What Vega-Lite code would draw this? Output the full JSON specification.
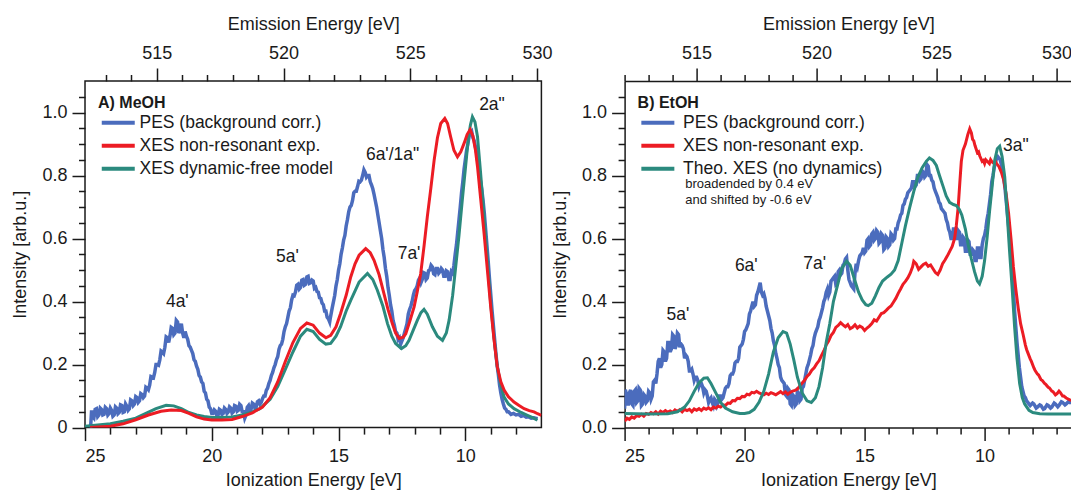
{
"$schema": "https://vega.github.io/schema/vega-lite/v6.json",
"padding": {"left": 11, "top": 15, "right": 0, "bottom": 0},
"autosize": {"type": "pad"},
"bounds": "flush",
"spacing": 82.6,
"config": {
  "font": "Liberation Sans",
  "view": {"stroke": "#1a1a1a", "strokeWidth": 1.5},
  "axis": {"grid": false, "domain": false, "domainColor": "#1a1a1a", "domainWidth": 1.5, "tickColor": "#1a1a1a", "tickWidth": 1.5, "labelFont": "Liberation Sans", "labelFontSize": 18, "labelColor": "#1a1a1a", "titleFont": "Liberation Sans", "titleFontSize": 18, "titleFontWeight": "normal", "titleColor": "#1a1a1a"},
  "legend": {"labelFont": "Liberation Sans", "labelFontSize": 17.5, "labelColor": "#1a1a1a", "labelLimit": 400, "titleFont": "Liberation Sans", "titleFontSize": 16, "titleFontWeight": "bold", "titleColor": "#1a1a1a", "titleLimit": 400}
},
"datasets": {
  "meoh_pes": [
    {"ie":24.78,"v":0.0},{"ie":24.74,"v":0.055},{"ie":24.7,"v":0.035},{"ie":24.65,"v":0.03},{"ie":24.6,"v":0.058},{"ie":24.55,"v":0.06},{"ie":24.5,"v":0.035},{"ie":24.45,"v":0.04},{"ie":24.4,"v":0.062},{"ie":24.35,"v":0.058},{"ie":24.3,"v":0.04},{"ie":24.25,"v":0.042},{"ie":24.2,"v":0.064},{"ie":24.15,"v":0.06},{"ie":24.1,"v":0.04},{"ie":24.05,"v":0.045},{"ie":24.0,"v":0.062},{"ie":23.95,"v":0.055},{"ie":23.9,"v":0.036},{"ie":23.85,"v":0.04},{"ie":23.8,"v":0.066},{"ie":23.75,"v":0.062},{"ie":23.7,"v":0.044},{"ie":23.65,"v":0.048},{"ie":23.6,"v":0.072},{"ie":23.55,"v":0.07},{"ie":23.5,"v":0.048},{"ie":23.45,"v":0.05},{"ie":23.4,"v":0.075},{"ie":23.35,"v":0.068},{"ie":23.3,"v":0.055},{"ie":23.25,"v":0.06},{"ie":23.2,"v":0.088},{"ie":23.15,"v":0.085},{"ie":23.1,"v":0.07},{"ie":23.05,"v":0.075},{"ie":23.0,"v":0.098},{"ie":22.95,"v":0.095},{"ie":22.9,"v":0.08},{"ie":22.85,"v":0.085},{"ie":22.8,"v":0.108},{"ie":22.75,"v":0.105},{"ie":22.7,"v":0.095},{"ie":22.65,"v":0.1},{"ie":22.6,"v":0.128},{"ie":22.55,"v":0.125},{"ie":22.5,"v":0.12},{"ie":22.45,"v":0.135},{"ie":22.4,"v":0.162},{"ie":22.35,"v":0.16},{"ie":22.3,"v":0.158},{"ie":22.25,"v":0.175},{"ie":22.2,"v":0.2},{"ie":22.15,"v":0.2},{"ie":22.1,"v":0.198},{"ie":22.05,"v":0.215},{"ie":22.0,"v":0.243},{"ie":21.95,"v":0.24},{"ie":21.9,"v":0.235},{"ie":21.85,"v":0.255},{"ie":21.8,"v":0.288},{"ie":21.75,"v":0.285},{"ie":21.7,"v":0.27},{"ie":21.65,"v":0.29},{"ie":21.6,"v":0.318},{"ie":21.55,"v":0.315},{"ie":21.5,"v":0.295},{"ie":21.45,"v":0.3},{"ie":21.4,"v":0.34},{"ie":21.35,"v":0.335},{"ie":21.3,"v":0.3},{"ie":21.25,"v":0.31},{"ie":21.2,"v":0.33},{"ie":21.15,"v":0.3},{"ie":21.1,"v":0.285},{"ie":21.05,"v":0.305},{"ie":21.0,"v":0.29},{"ie":20.95,"v":0.28},{"ie":20.9,"v":0.26},{"ie":20.85,"v":0.255},{"ie":20.8,"v":0.245},{"ie":20.75,"v":0.235},{"ie":20.7,"v":0.215},{"ie":20.65,"v":0.21},{"ie":20.6,"v":0.195},{"ie":20.55,"v":0.185},{"ie":20.5,"v":0.165},{"ie":20.45,"v":0.16},{"ie":20.4,"v":0.145},{"ie":20.35,"v":0.14},{"ie":20.3,"v":0.115},{"ie":20.25,"v":0.11},{"ie":20.2,"v":0.09},{"ie":20.15,"v":0.085},{"ie":20.1,"v":0.065},{"ie":20.05,"v":0.06},{"ie":20.0,"v":0.045},{"ie":19.95,"v":0.045},{"ie":19.9,"v":0.056},{"ie":19.85,"v":0.052},{"ie":19.8,"v":0.038},{"ie":19.75,"v":0.04},{"ie":19.7,"v":0.058},{"ie":19.65,"v":0.055},{"ie":19.6,"v":0.042},{"ie":19.55,"v":0.045},{"ie":19.5,"v":0.062},{"ie":19.45,"v":0.058},{"ie":19.4,"v":0.045},{"ie":19.35,"v":0.05},{"ie":19.3,"v":0.066},{"ie":19.25,"v":0.062},{"ie":19.2,"v":0.046},{"ie":19.15,"v":0.05},{"ie":19.1,"v":0.07},{"ie":19.05,"v":0.068},{"ie":19.0,"v":0.052},{"ie":18.95,"v":0.055},{"ie":18.9,"v":0.074},{"ie":18.85,"v":0.07},{"ie":18.8,"v":0.05},{"ie":18.75,"v":0.05},{"ie":18.7,"v":0.03},{"ie":18.65,"v":0.04},{"ie":18.6,"v":0.065},{"ie":18.55,"v":0.07},{"ie":18.5,"v":0.055},{"ie":18.45,"v":0.058},{"ie":18.4,"v":0.078},{"ie":18.35,"v":0.075},{"ie":18.3,"v":0.062},{"ie":18.25,"v":0.065},{"ie":18.2,"v":0.082},{"ie":18.15,"v":0.085},{"ie":18.1,"v":0.075},{"ie":18.05,"v":0.08},{"ie":18.0,"v":0.092},{"ie":17.95,"v":0.1},{"ie":17.9,"v":0.1},{"ie":17.85,"v":0.118},{"ie":17.8,"v":0.125},{"ie":17.75,"v":0.14},{"ie":17.7,"v":0.15},{"ie":17.65,"v":0.165},{"ie":17.6,"v":0.175},{"ie":17.55,"v":0.19},{"ie":17.5,"v":0.2},{"ie":17.45,"v":0.215},{"ie":17.4,"v":0.225},{"ie":17.35,"v":0.248},{"ie":17.3,"v":0.26},{"ie":17.25,"v":0.265},{"ie":17.2,"v":0.28},{"ie":17.15,"v":0.305},{"ie":17.1,"v":0.32},{"ie":17.05,"v":0.33},{"ie":17.0,"v":0.35},{"ie":16.95,"v":0.37},{"ie":16.9,"v":0.38},{"ie":16.85,"v":0.405},{"ie":16.8,"v":0.42},{"ie":16.75,"v":0.418},{"ie":16.7,"v":0.43},{"ie":16.65,"v":0.452},{"ie":16.6,"v":0.455},{"ie":16.55,"v":0.44},{"ie":16.5,"v":0.445},{"ie":16.45,"v":0.468},{"ie":16.4,"v":0.47},{"ie":16.35,"v":0.452},{"ie":16.3,"v":0.455},{"ie":16.25,"v":0.478},{"ie":16.2,"v":0.48},{"ie":16.15,"v":0.458},{"ie":16.1,"v":0.46},{"ie":16.05,"v":0.468},{"ie":16.0,"v":0.465},{"ie":15.95,"v":0.442},{"ie":15.9,"v":0.445},{"ie":15.85,"v":0.432},{"ie":15.8,"v":0.43},{"ie":15.75,"v":0.412},{"ie":15.7,"v":0.41},{"ie":15.65,"v":0.395},{"ie":15.6,"v":0.39},{"ie":15.55,"v":0.37},{"ie":15.5,"v":0.37},{"ie":15.45,"v":0.35},{"ie":15.4,"v":0.345},{"ie":15.35,"v":0.335},{"ie":15.32,"v":0.35},{"ie":15.25,"v":0.38},{"ie":15.2,"v":0.4},{"ie":15.15,"v":0.42},{"ie":15.1,"v":0.45},{"ie":15.05,"v":0.47},{"ie":15.0,"v":0.5},{"ie":14.95,"v":0.52},{"ie":14.9,"v":0.55},{"ie":14.85,"v":0.57},{"ie":14.8,"v":0.595},{"ie":14.75,"v":0.61},{"ie":14.7,"v":0.64},{"ie":14.65,"v":0.66},{"ie":14.6,"v":0.685},{"ie":14.55,"v":0.7},{"ie":14.5,"v":0.705},{"ie":14.45,"v":0.72},{"ie":14.4,"v":0.745},{"ie":14.35,"v":0.75},{"ie":14.3,"v":0.75},{"ie":14.25,"v":0.765},{"ie":14.2,"v":0.782},{"ie":14.15,"v":0.78},{"ie":14.1,"v":0.785},{"ie":14.05,"v":0.8},{"ie":14.0,"v":0.818},{"ie":13.95,"v":0.81},{"ie":13.9,"v":0.795},{"ie":13.85,"v":0.8},{"ie":13.8,"v":0.8},{"ie":13.75,"v":0.78},{"ie":13.7,"v":0.77},{"ie":13.65,"v":0.758},{"ie":13.6,"v":0.74},{"ie":13.55,"v":0.72},{"ie":13.5,"v":0.7},{"ie":13.45,"v":0.675},{"ie":13.4,"v":0.65},{"ie":13.35,"v":0.625},{"ie":13.3,"v":0.6},{"ie":13.25,"v":0.565},{"ie":13.2,"v":0.54},{"ie":13.15,"v":0.505},{"ie":13.1,"v":0.48},{"ie":13.05,"v":0.445},{"ie":13.0,"v":0.42},{"ie":12.95,"v":0.39},{"ie":12.9,"v":0.37},{"ie":12.85,"v":0.34},{"ie":12.8,"v":0.325},{"ie":12.75,"v":0.305},{"ie":12.7,"v":0.3},{"ie":12.65,"v":0.28},{"ie":12.6,"v":0.285},{"ie":12.55,"v":0.265},{"ie":12.5,"v":0.275},{"ie":12.45,"v":0.285},{"ie":12.4,"v":0.3},{"ie":12.35,"v":0.315},{"ie":12.3,"v":0.33},{"ie":12.25,"v":0.36},{"ie":12.2,"v":0.375},{"ie":12.15,"v":0.385},{"ie":12.1,"v":0.4},{"ie":12.05,"v":0.42},{"ie":12.0,"v":0.435},{"ie":11.95,"v":0.44},{"ie":11.9,"v":0.45},{"ie":11.85,"v":0.468},{"ie":11.8,"v":0.475},{"ie":11.75,"v":0.46},{"ie":11.7,"v":0.47},{"ie":11.65,"v":0.492},{"ie":11.6,"v":0.49},{"ie":11.55,"v":0.47},{"ie":11.5,"v":0.475},{"ie":11.45,"v":0.498},{"ie":11.4,"v":0.5},{"ie":11.35,"v":0.515},{"ie":11.3,"v":0.51},{"ie":11.25,"v":0.488},{"ie":11.2,"v":0.485},{"ie":11.15,"v":0.505},{"ie":11.1,"v":0.505},{"ie":11.05,"v":0.49},{"ie":11.0,"v":0.495},{"ie":10.95,"v":0.505},{"ie":10.9,"v":0.5},{"ie":10.85,"v":0.48},{"ie":10.8,"v":0.48},{"ie":10.75,"v":0.498},{"ie":10.7,"v":0.495},{"ie":10.65,"v":0.47},{"ie":10.6,"v":0.47},{"ie":10.55,"v":0.495},{"ie":10.5,"v":0.49},{"ie":10.45,"v":0.515},{"ie":10.4,"v":0.55},{"ie":10.35,"v":0.58},{"ie":10.3,"v":0.62},{"ie":10.25,"v":0.66},{"ie":10.2,"v":0.7},{"ie":10.15,"v":0.745},{"ie":10.1,"v":0.78},{"ie":10.05,"v":0.82},{"ie":10.0,"v":0.85},{"ie":9.95,"v":0.88},{"ie":9.9,"v":0.9},{"ie":9.85,"v":0.925},{"ie":9.8,"v":0.935},{"ie":9.75,"v":0.94},{"ie":9.7,"v":0.92},{"ie":9.65,"v":0.91},{"ie":9.6,"v":0.89},{"ie":9.55,"v":0.87},{"ie":9.5,"v":0.84},{"ie":9.45,"v":0.815},{"ie":9.4,"v":0.78},{"ie":9.35,"v":0.755},{"ie":9.3,"v":0.72},{"ie":9.25,"v":0.68},{"ie":9.2,"v":0.63},{"ie":9.15,"v":0.58},{"ie":9.1,"v":0.53},{"ie":9.05,"v":0.475},{"ie":9.0,"v":0.425},{"ie":8.95,"v":0.375},{"ie":8.9,"v":0.33},{"ie":8.85,"v":0.285},{"ie":8.8,"v":0.24},{"ie":8.75,"v":0.2},{"ie":8.7,"v":0.17},{"ie":8.65,"v":0.135},{"ie":8.6,"v":0.11},{"ie":8.55,"v":0.09},{"ie":8.5,"v":0.075},{"ie":8.45,"v":0.062},{"ie":8.4,"v":0.058},{"ie":8.35,"v":0.05},{"ie":8.3,"v":0.05},{"ie":8.2,"v":0.042},{"ie":8.1,"v":0.045},{"ie":8.0,"v":0.04},{"ie":7.9,"v":0.042},{"ie":7.8,"v":0.036},{"ie":7.7,"v":0.038},{"ie":7.6,"v":0.033},{"ie":7.5,"v":0.034},{"ie":7.4,"v":0.03},{"ie":7.3,"v":0.031},{"ie":7.15,"v":0.028}
  ],
  "meoh_xes": [
    {"ie":24.8,"v":0.0},{"ie":24.0,"v":0.004},{"ie":23.5,"v":0.012},{"ie":23.0,"v":0.025},{"ie":22.5,"v":0.04},{"ie":22.0,"v":0.052},{"ie":21.6,"v":0.056},{"ie":21.2,"v":0.054},{"ie":20.9,"v":0.045},{"ie":20.6,"v":0.034},{"ie":20.3,"v":0.027},{"ie":20.0,"v":0.024},{"ie":19.6,"v":0.024},{"ie":19.2,"v":0.026},{"ie":18.8,"v":0.035},{"ie":18.4,"v":0.047},{"ie":18.0,"v":0.065},{"ie":17.7,"v":0.095},{"ie":17.4,"v":0.145},{"ie":17.1,"v":0.21},{"ie":16.8,"v":0.27},{"ie":16.5,"v":0.315},{"ie":16.25,"v":0.332},{"ie":16.0,"v":0.325},{"ie":15.75,"v":0.3},{"ie":15.5,"v":0.285},{"ie":15.31,"v":0.293},{"ie":15.1,"v":0.32},{"ie":14.92,"v":0.362},{"ie":14.7,"v":0.42},{"ie":14.52,"v":0.478},{"ie":14.35,"v":0.52},{"ie":14.19,"v":0.547},{"ie":13.93,"v":0.568},{"ie":13.75,"v":0.555},{"ie":13.6,"v":0.531},{"ie":13.4,"v":0.485},{"ie":13.21,"v":0.425},{"ie":13.05,"v":0.375},{"ie":12.88,"v":0.33},{"ie":12.75,"v":0.3},{"ie":12.61,"v":0.283},{"ie":12.45,"v":0.287},{"ie":12.35,"v":0.298},{"ie":12.2,"v":0.335},{"ie":12.02,"v":0.383},{"ie":11.9,"v":0.43},{"ie":11.76,"v":0.489},{"ie":11.63,"v":0.575},{"ie":11.5,"v":0.669},{"ie":11.36,"v":0.76},{"ie":11.23,"v":0.849},{"ie":11.1,"v":0.92},{"ie":10.97,"v":0.965},{"ie":10.81,"v":0.981},{"ie":10.7,"v":0.965},{"ie":10.58,"v":0.923},{"ie":10.45,"v":0.88},{"ie":10.31,"v":0.859},{"ie":10.18,"v":0.875},{"ie":10.05,"v":0.902},{"ie":9.93,"v":0.93},{"ie":9.81,"v":0.946},{"ie":9.7,"v":0.925},{"ie":9.6,"v":0.88},{"ie":9.52,"v":0.828},{"ie":9.4,"v":0.73},{"ie":9.26,"v":0.616},{"ie":9.13,"v":0.5},{"ie":9.0,"v":0.383},{"ie":8.87,"v":0.28},{"ie":8.74,"v":0.193},{"ie":8.6,"v":0.145},{"ie":8.47,"v":0.119},{"ie":8.3,"v":0.098},{"ie":8.08,"v":0.081},{"ie":7.88,"v":0.07},{"ie":7.68,"v":0.06},{"ie":7.48,"v":0.054},{"ie":7.29,"v":0.05},{"ie":7.15,"v":0.044},{"ie":7.0,"v":0.039}
  ],
  "meoh_model": [
    {"ie":25.0,"v":0.004},{"ie":24.5,"v":0.008},{"ie":24.0,"v":0.012},{"ie":23.5,"v":0.02},{"ie":23.0,"v":0.03},{"ie":22.6,"v":0.045},{"ie":22.2,"v":0.06},{"ie":21.8,"v":0.071},{"ie":21.5,"v":0.069},{"ie":21.2,"v":0.06},{"ie":20.9,"v":0.048},{"ie":20.6,"v":0.04},{"ie":20.3,"v":0.035},{"ie":20.0,"v":0.032},{"ie":19.6,"v":0.032},{"ie":19.2,"v":0.034},{"ie":18.8,"v":0.04},{"ie":18.4,"v":0.05},{"ie":18.1,"v":0.06},{"ie":17.7,"v":0.09},{"ie":17.4,"v":0.13},{"ie":17.1,"v":0.185},{"ie":16.8,"v":0.24},{"ie":16.5,"v":0.29},{"ie":16.25,"v":0.312},{"ie":16.0,"v":0.305},{"ie":15.75,"v":0.28},{"ie":15.5,"v":0.265},{"ie":15.31,"v":0.267},{"ie":15.1,"v":0.29},{"ie":14.92,"v":0.32},{"ie":14.7,"v":0.37},{"ie":14.52,"v":0.404},{"ie":14.19,"v":0.462},{"ie":13.86,"v":0.489},{"ie":13.65,"v":0.47},{"ie":13.47,"v":0.436},{"ie":13.25,"v":0.385},{"ie":13.07,"v":0.33},{"ie":12.9,"v":0.29},{"ie":12.75,"v":0.267},{"ie":12.52,"v":0.251},{"ie":12.35,"v":0.26},{"ie":12.22,"v":0.277},{"ie":12.05,"v":0.31},{"ie":11.89,"v":0.341},{"ie":11.75,"v":0.365},{"ie":11.63,"v":0.375},{"ie":11.5,"v":0.36},{"ie":11.3,"v":0.32},{"ie":11.1,"v":0.29},{"ie":10.9,"v":0.277},{"ie":10.75,"v":0.3},{"ie":10.64,"v":0.341},{"ie":10.5,"v":0.42},{"ie":10.38,"v":0.51},{"ie":10.25,"v":0.61},{"ie":10.12,"v":0.722},{"ie":10.0,"v":0.82},{"ie":9.89,"v":0.912},{"ie":9.8,"v":0.96},{"ie":9.72,"v":0.986},{"ie":9.62,"v":0.97},{"ie":9.52,"v":0.923},{"ie":9.4,"v":0.81},{"ie":9.26,"v":0.669},{"ie":9.13,"v":0.53},{"ie":9.0,"v":0.394},{"ie":8.87,"v":0.285},{"ie":8.74,"v":0.193},{"ie":8.6,"v":0.135},{"ie":8.47,"v":0.097},{"ie":8.3,"v":0.075},{"ie":8.08,"v":0.06},{"ie":7.8,"v":0.048},{"ie":7.55,"v":0.039},{"ie":7.3,"v":0.03},{"ie":7.16,"v":0.023}
  ],
  "meoh_labels": [
    {"ie":21.36,"v":0.4,"t":"4a'"},{"ie":17.02,"v":0.542,"t":"5a'"},{"ie":12.87,"v":0.864,"t":"6a'/1a\""},{"ie":12.22,"v":0.552,"t":"7a'"},{"ie":8.95,"v":1.025,"t":"2a\""}
  ],
  "etoh_pes": [
    {"ie":25.0,"v":0.06},{"ie":24.97,"v":0.12},{"ie":24.9,"v":0.1},{"ie":24.85,"v":0.07},{"ie":24.8,"v":0.11},{"ie":24.75,"v":0.12},{"ie":24.7,"v":0.075},{"ie":24.65,"v":0.07},{"ie":24.6,"v":0.115},{"ie":24.55,"v":0.12},{"ie":24.5,"v":0.08},{"ie":24.45,"v":0.085},{"ie":24.4,"v":0.125},{"ie":24.35,"v":0.12},{"ie":24.3,"v":0.07},{"ie":24.25,"v":0.075},{"ie":24.2,"v":0.105},{"ie":24.15,"v":0.1},{"ie":24.1,"v":0.08},{"ie":24.05,"v":0.085},{"ie":24.0,"v":0.115},{"ie":23.95,"v":0.11},{"ie":23.9,"v":0.09},{"ie":23.85,"v":0.1},{"ie":23.8,"v":0.145},{"ie":23.75,"v":0.15},{"ie":23.7,"v":0.14},{"ie":23.65,"v":0.17},{"ie":23.6,"v":0.21},{"ie":23.55,"v":0.22},{"ie":23.5,"v":0.19},{"ie":23.45,"v":0.2},{"ie":23.4,"v":0.245},{"ie":23.35,"v":0.24},{"ie":23.3,"v":0.21},{"ie":23.25,"v":0.22},{"ie":23.2,"v":0.27},{"ie":23.15,"v":0.27},{"ie":23.1,"v":0.24},{"ie":23.05,"v":0.25},{"ie":23.0,"v":0.295},{"ie":22.95,"v":0.29},{"ie":22.9,"v":0.25},{"ie":22.85,"v":0.26},{"ie":22.8,"v":0.3},{"ie":22.75,"v":0.295},{"ie":22.7,"v":0.255},{"ie":22.65,"v":0.265},{"ie":22.6,"v":0.26},{"ie":22.55,"v":0.25},{"ie":22.5,"v":0.22},{"ie":22.45,"v":0.23},{"ie":22.4,"v":0.225},{"ie":22.35,"v":0.21},{"ie":22.3,"v":0.18},{"ie":22.25,"v":0.18},{"ie":22.2,"v":0.185},{"ie":22.15,"v":0.17},{"ie":22.1,"v":0.15},{"ie":22.05,"v":0.16},{"ie":22.0,"v":0.16},{"ie":21.95,"v":0.15},{"ie":21.9,"v":0.13},{"ie":21.85,"v":0.14},{"ie":21.8,"v":0.14},{"ie":21.75,"v":0.13},{"ie":21.7,"v":0.11},{"ie":21.65,"v":0.12},{"ie":21.6,"v":0.115},{"ie":21.55,"v":0.1},{"ie":21.5,"v":0.08},{"ie":21.45,"v":0.09},{"ie":21.4,"v":0.095},{"ie":21.35,"v":0.08},{"ie":21.3,"v":0.07},{"ie":21.25,"v":0.09},{"ie":21.2,"v":0.085},{"ie":21.15,"v":0.07},{"ie":21.1,"v":0.08},{"ie":21.05,"v":0.1},{"ie":21.0,"v":0.1},{"ie":20.95,"v":0.09},{"ie":20.9,"v":0.095},{"ie":20.85,"v":0.11},{"ie":20.8,"v":0.125},{"ie":20.75,"v":0.13},{"ie":20.7,"v":0.13},{"ie":20.65,"v":0.14},{"ie":20.6,"v":0.165},{"ie":20.55,"v":0.17},{"ie":20.5,"v":0.17},{"ie":20.45,"v":0.18},{"ie":20.4,"v":0.205},{"ie":20.35,"v":0.21},{"ie":20.3,"v":0.21},{"ie":20.25,"v":0.22},{"ie":20.2,"v":0.255},{"ie":20.15,"v":0.26},{"ie":20.1,"v":0.265},{"ie":20.05,"v":0.28},{"ie":20.0,"v":0.305},{"ie":19.95,"v":0.31},{"ie":19.9,"v":0.32},{"ie":19.85,"v":0.33},{"ie":19.8,"v":0.36},{"ie":19.75,"v":0.37},{"ie":19.7,"v":0.385},{"ie":19.65,"v":0.4},{"ie":19.6,"v":0.385},{"ie":19.55,"v":0.39},{"ie":19.5,"v":0.42},{"ie":19.45,"v":0.43},{"ie":19.4,"v":0.445},{"ie":19.35,"v":0.46},{"ie":19.3,"v":0.43},{"ie":19.25,"v":0.42},{"ie":19.2,"v":0.425},{"ie":19.15,"v":0.41},{"ie":19.1,"v":0.385},{"ie":19.05,"v":0.37},{"ie":19.0,"v":0.355},{"ie":18.95,"v":0.34},{"ie":18.9,"v":0.315},{"ie":18.85,"v":0.3},{"ie":18.8,"v":0.275},{"ie":18.75,"v":0.26},{"ie":18.7,"v":0.235},{"ie":18.65,"v":0.22},{"ie":18.6,"v":0.2},{"ie":18.55,"v":0.19},{"ie":18.5,"v":0.16},{"ie":18.45,"v":0.15},{"ie":18.4,"v":0.145},{"ie":18.35,"v":0.14},{"ie":18.3,"v":0.105},{"ie":18.25,"v":0.1},{"ie":18.2,"v":0.125},{"ie":18.15,"v":0.12},{"ie":18.1,"v":0.075},{"ie":18.05,"v":0.07},{"ie":18.0,"v":0.105},{"ie":17.95,"v":0.1},{"ie":17.9,"v":0.07},{"ie":17.85,"v":0.075},{"ie":17.8,"v":0.115},{"ie":17.75,"v":0.11},{"ie":17.7,"v":0.085},{"ie":17.65,"v":0.09},{"ie":17.6,"v":0.125},{"ie":17.55,"v":0.13},{"ie":17.5,"v":0.15},{"ie":17.45,"v":0.17},{"ie":17.4,"v":0.19},{"ie":17.35,"v":0.2},{"ie":17.3,"v":0.215},{"ie":17.25,"v":0.23},{"ie":17.2,"v":0.25},{"ie":17.15,"v":0.26},{"ie":17.1,"v":0.285},{"ie":17.05,"v":0.3},{"ie":17.0,"v":0.31},{"ie":16.95,"v":0.32},{"ie":16.9,"v":0.34},{"ie":16.85,"v":0.35},{"ie":16.8,"v":0.365},{"ie":16.75,"v":0.38},{"ie":16.7,"v":0.4},{"ie":16.65,"v":0.41},{"ie":16.6,"v":0.43},{"ie":16.55,"v":0.44},{"ie":16.5,"v":0.42},{"ie":16.45,"v":0.43},{"ie":16.4,"v":0.465},{"ie":16.35,"v":0.47},{"ie":16.3,"v":0.475},{"ie":16.25,"v":0.48},{"ie":16.2,"v":0.455},{"ie":16.15,"v":0.46},{"ie":16.1,"v":0.495},{"ie":16.05,"v":0.5},{"ie":16.0,"v":0.485},{"ie":15.95,"v":0.49},{"ie":15.9,"v":0.515},{"ie":15.85,"v":0.52},{"ie":15.8,"v":0.535},{"ie":15.75,"v":0.54},{"ie":15.7,"v":0.5},{"ie":15.65,"v":0.47},{"ie":15.6,"v":0.46},{"ie":15.55,"v":0.45},{"ie":15.5,"v":0.445},{"ie":15.45,"v":0.44},{"ie":15.4,"v":0.49},{"ie":15.35,"v":0.52},{"ie":15.3,"v":0.51},{"ie":15.25,"v":0.53},{"ie":15.2,"v":0.545},{"ie":15.15,"v":0.55},{"ie":15.1,"v":0.555},{"ie":15.05,"v":0.57},{"ie":15.0,"v":0.555},{"ie":14.95,"v":0.56},{"ie":14.9,"v":0.595},{"ie":14.85,"v":0.6},{"ie":14.8,"v":0.575},{"ie":14.75,"v":0.58},{"ie":14.7,"v":0.615},{"ie":14.65,"v":0.62},{"ie":14.6,"v":0.595},{"ie":14.55,"v":0.6},{"ie":14.5,"v":0.625},{"ie":14.45,"v":0.62},{"ie":14.4,"v":0.585},{"ie":14.35,"v":0.59},{"ie":14.3,"v":0.615},{"ie":14.25,"v":0.61},{"ie":14.2,"v":0.565},{"ie":14.15,"v":0.57},{"ie":14.1,"v":0.605},{"ie":14.05,"v":0.6},{"ie":14.0,"v":0.575},{"ie":13.95,"v":0.58},{"ie":13.9,"v":0.615},{"ie":13.85,"v":0.61},{"ie":13.8,"v":0.595},{"ie":13.75,"v":0.6},{"ie":13.7,"v":0.63},{"ie":13.65,"v":0.63},{"ie":13.6,"v":0.65},{"ie":13.55,"v":0.66},{"ie":13.5,"v":0.675},{"ie":13.45,"v":0.68},{"ie":13.4,"v":0.705},{"ie":13.35,"v":0.71},{"ie":13.3,"v":0.725},{"ie":13.25,"v":0.73},{"ie":13.2,"v":0.745},{"ie":13.15,"v":0.75},{"ie":13.1,"v":0.755},{"ie":13.05,"v":0.76},{"ie":13.0,"v":0.78},{"ie":12.95,"v":0.78},{"ie":12.9,"v":0.765},{"ie":12.85,"v":0.77},{"ie":12.8,"v":0.8},{"ie":12.75,"v":0.8},{"ie":12.7,"v":0.785},{"ie":12.65,"v":0.79},{"ie":12.6,"v":0.815},{"ie":12.55,"v":0.81},{"ie":12.5,"v":0.795},{"ie":12.45,"v":0.8},{"ie":12.4,"v":0.835},{"ie":12.35,"v":0.83},{"ie":12.3,"v":0.8},{"ie":12.25,"v":0.8},{"ie":12.2,"v":0.785},{"ie":12.15,"v":0.78},{"ie":12.1,"v":0.76},{"ie":12.05,"v":0.75},{"ie":12.0,"v":0.74},{"ie":11.95,"v":0.73},{"ie":11.9,"v":0.715},{"ie":11.85,"v":0.71},{"ie":11.8,"v":0.695},{"ie":11.75,"v":0.69},{"ie":11.7,"v":0.685},{"ie":11.65,"v":0.68},{"ie":11.6,"v":0.66},{"ie":11.55,"v":0.65},{"ie":11.5,"v":0.63},{"ie":11.45,"v":0.62},{"ie":11.4,"v":0.6},{"ie":11.35,"v":0.6},{"ie":11.3,"v":0.63},{"ie":11.25,"v":0.63},{"ie":11.2,"v":0.6},{"ie":11.15,"v":0.6},{"ie":11.1,"v":0.625},{"ie":11.05,"v":0.62},{"ie":11.0,"v":0.58},{"ie":10.95,"v":0.58},{"ie":10.9,"v":0.605},{"ie":10.85,"v":0.6},{"ie":10.8,"v":0.56},{"ie":10.75,"v":0.56},{"ie":10.7,"v":0.595},{"ie":10.65,"v":0.59},{"ie":10.6,"v":0.55},{"ie":10.55,"v":0.55},{"ie":10.5,"v":0.565},{"ie":10.45,"v":0.56},{"ie":10.4,"v":0.53},{"ie":10.35,"v":0.53},{"ie":10.3,"v":0.57},{"ie":10.25,"v":0.57},{"ie":10.2,"v":0.54},{"ie":10.15,"v":0.54},{"ie":10.1,"v":0.58},{"ie":10.05,"v":0.6},{"ie":10.0,"v":0.61},{"ie":9.95,"v":0.63},{"ie":9.9,"v":0.66},{"ie":9.85,"v":0.68},{"ie":9.8,"v":0.71},{"ie":9.75,"v":0.74},{"ie":9.7,"v":0.78},{"ie":9.65,"v":0.8},{"ie":9.6,"v":0.825},{"ie":9.55,"v":0.84},{"ie":9.5,"v":0.855},{"ie":9.45,"v":0.86},{"ie":9.4,"v":0.855},{"ie":9.35,"v":0.85},{"ie":9.3,"v":0.835},{"ie":9.25,"v":0.82},{"ie":9.2,"v":0.79},{"ie":9.15,"v":0.76},{"ie":9.1,"v":0.72},{"ie":9.05,"v":0.68},{"ie":9.0,"v":0.64},{"ie":8.95,"v":0.6},{"ie":8.9,"v":0.555},{"ie":8.85,"v":0.5},{"ie":8.8,"v":0.44},{"ie":8.75,"v":0.37},{"ie":8.7,"v":0.32},{"ie":8.65,"v":0.27},{"ie":8.6,"v":0.23},{"ie":8.55,"v":0.19},{"ie":8.5,"v":0.16},{"ie":8.45,"v":0.13},{"ie":8.4,"v":0.115},{"ie":8.35,"v":0.1},{"ie":8.3,"v":0.095},{"ie":8.25,"v":0.085},{"ie":8.2,"v":0.08},{"ie":8.1,"v":0.07},{"ie":8.0,"v":0.078},{"ie":7.95,"v":0.075},{"ie":7.85,"v":0.062},{"ie":7.8,"v":0.065},{"ie":7.7,"v":0.072},{"ie":7.65,"v":0.07},{"ie":7.55,"v":0.058},{"ie":7.5,"v":0.06},{"ie":7.4,"v":0.072},{"ie":7.35,"v":0.07},{"ie":7.25,"v":0.062},{"ie":7.2,"v":0.065},{"ie":7.1,"v":0.078},{"ie":7.05,"v":0.075},{"ie":6.95,"v":0.066},{"ie":6.9,"v":0.07},{"ie":6.8,"v":0.082},{"ie":6.75,"v":0.08},{"ie":6.65,"v":0.072},{"ie":6.6,"v":0.075},{"ie":6.5,"v":0.083},{"ie":6.45,"v":0.08},{"ie":6.35,"v":0.08}
  ],
  "etoh_xes": [
    {"ie":25.0,"v":0.02},{"ie":24.9,"v":0.03},{"ie":24.8,"v":0.026},{"ie":24.7,"v":0.034},{"ie":24.6,"v":0.03},{"ie":24.5,"v":0.038},{"ie":24.4,"v":0.036},{"ie":24.3,"v":0.042},{"ie":24.2,"v":0.036},{"ie":24.1,"v":0.045},{"ie":24.0,"v":0.042},{"ie":23.9,"v":0.048},{"ie":23.8,"v":0.044},{"ie":23.7,"v":0.05},{"ie":23.6,"v":0.043},{"ie":23.5,"v":0.052},{"ie":23.4,"v":0.048},{"ie":23.3,"v":0.054},{"ie":23.2,"v":0.049},{"ie":23.1,"v":0.053},{"ie":23.0,"v":0.048},{"ie":22.9,"v":0.056},{"ie":22.8,"v":0.052},{"ie":22.7,"v":0.057},{"ie":22.6,"v":0.05},{"ie":22.5,"v":0.058},{"ie":22.4,"v":0.054},{"ie":22.3,"v":0.058},{"ie":22.2,"v":0.05},{"ie":22.1,"v":0.059},{"ie":22.0,"v":0.055},{"ie":21.9,"v":0.06},{"ie":21.8,"v":0.054},{"ie":21.7,"v":0.062},{"ie":21.6,"v":0.058},{"ie":21.5,"v":0.063},{"ie":21.4,"v":0.057},{"ie":21.3,"v":0.065},{"ie":21.2,"v":0.062},{"ie":21.1,"v":0.068},{"ie":21.0,"v":0.065},{"ie":20.9,"v":0.072},{"ie":20.8,"v":0.07},{"ie":20.7,"v":0.078},{"ie":20.6,"v":0.077},{"ie":20.5,"v":0.086},{"ie":20.4,"v":0.085},{"ie":20.3,"v":0.093},{"ie":20.2,"v":0.092},{"ie":20.1,"v":0.099},{"ie":20.0,"v":0.098},{"ie":19.9,"v":0.106},{"ie":19.8,"v":0.104},{"ie":19.7,"v":0.112},{"ie":19.6,"v":0.11},{"ie":19.5,"v":0.115},{"ie":19.4,"v":0.11},{"ie":19.3,"v":0.107},{"ie":19.2,"v":0.104},{"ie":19.1,"v":0.109},{"ie":19.0,"v":0.105},{"ie":18.9,"v":0.111},{"ie":18.8,"v":0.108},{"ie":18.7,"v":0.104},{"ie":18.6,"v":0.109},{"ie":18.5,"v":0.114},{"ie":18.4,"v":0.108},{"ie":18.3,"v":0.113},{"ie":18.2,"v":0.106},{"ie":18.1,"v":0.112},{"ie":18.0,"v":0.116},{"ie":17.9,"v":0.118},{"ie":17.8,"v":0.122},{"ie":17.7,"v":0.132},{"ie":17.6,"v":0.142},{"ie":17.5,"v":0.15},{"ie":17.4,"v":0.162},{"ie":17.3,"v":0.17},{"ie":17.2,"v":0.182},{"ie":17.1,"v":0.19},{"ie":17.0,"v":0.202},{"ie":16.9,"v":0.212},{"ie":16.8,"v":0.228},{"ie":16.7,"v":0.243},{"ie":16.6,"v":0.262},{"ie":16.5,"v":0.275},{"ie":16.4,"v":0.292},{"ie":16.3,"v":0.302},{"ie":16.2,"v":0.318},{"ie":16.1,"v":0.324},{"ie":16.0,"v":0.333},{"ie":15.9,"v":0.326},{"ie":15.8,"v":0.32},{"ie":15.7,"v":0.327},{"ie":15.6,"v":0.314},{"ie":15.5,"v":0.318},{"ie":15.4,"v":0.326},{"ie":15.3,"v":0.316},{"ie":15.2,"v":0.322},{"ie":15.1,"v":0.318},{"ie":15.0,"v":0.308},{"ie":14.9,"v":0.316},{"ie":14.8,"v":0.322},{"ie":14.7,"v":0.33},{"ie":14.6,"v":0.342},{"ie":14.5,"v":0.338},{"ie":14.4,"v":0.35},{"ie":14.3,"v":0.362},{"ie":14.2,"v":0.365},{"ie":14.1,"v":0.372},{"ie":14.0,"v":0.38},{"ie":13.9,"v":0.386},{"ie":13.8,"v":0.398},{"ie":13.7,"v":0.41},{"ie":13.6,"v":0.426},{"ie":13.5,"v":0.44},{"ie":13.4,"v":0.455},{"ie":13.3,"v":0.464},{"ie":13.2,"v":0.475},{"ie":13.1,"v":0.49},{"ie":13.0,"v":0.51},{"ie":12.95,"v":0.528},{"ie":12.85,"v":0.52},{"ie":12.75,"v":0.502},{"ie":12.65,"v":0.51},{"ie":12.55,"v":0.518},{"ie":12.45,"v":0.522},{"ie":12.35,"v":0.512},{"ie":12.25,"v":0.516},{"ie":12.15,"v":0.504},{"ie":12.05,"v":0.492},{"ie":11.95,"v":0.486},{"ie":11.85,"v":0.5},{"ie":11.75,"v":0.52},{"ie":11.65,"v":0.532},{"ie":11.55,"v":0.545},{"ie":11.45,"v":0.56},{"ie":11.35,"v":0.575},{"ie":11.25,"v":0.6},{"ie":11.18,"v":0.64},{"ie":11.1,"v":0.7},{"ie":11.03,"v":0.78},{"ie":10.97,"v":0.845},{"ie":10.9,"v":0.88},{"ie":10.8,"v":0.9},{"ie":10.7,"v":0.93},{"ie":10.62,"v":0.948},{"ie":10.55,"v":0.935},{"ie":10.5,"v":0.915},{"ie":10.45,"v":0.91},{"ie":10.4,"v":0.895},{"ie":10.3,"v":0.872},{"ie":10.25,"v":0.875},{"ie":10.2,"v":0.862},{"ie":10.1,"v":0.845},{"ie":10.05,"v":0.848},{"ie":10.0,"v":0.838},{"ie":9.95,"v":0.85},{"ie":9.9,"v":0.846},{"ie":9.8,"v":0.838},{"ie":9.75,"v":0.85},{"ie":9.7,"v":0.844},{"ie":9.6,"v":0.838},{"ie":9.55,"v":0.845},{"ie":9.5,"v":0.838},{"ie":9.4,"v":0.828},{"ie":9.3,"v":0.81},{"ie":9.2,"v":0.785},{"ie":9.1,"v":0.74},{"ie":9.0,"v":0.68},{"ie":8.9,"v":0.6},{"ie":8.8,"v":0.51},{"ie":8.7,"v":0.44},{"ie":8.6,"v":0.38},{"ie":8.5,"v":0.33},{"ie":8.4,"v":0.297},{"ie":8.3,"v":0.262},{"ie":8.25,"v":0.248},{"ie":8.2,"v":0.238},{"ie":8.1,"v":0.218},{"ie":8.05,"v":0.21},{"ie":7.95,"v":0.19},{"ie":7.9,"v":0.182},{"ie":7.8,"v":0.17},{"ie":7.75,"v":0.167},{"ie":7.65,"v":0.152},{"ie":7.6,"v":0.15},{"ie":7.5,"v":0.14},{"ie":7.45,"v":0.137},{"ie":7.35,"v":0.128},{"ie":7.3,"v":0.126},{"ie":7.2,"v":0.116},{"ie":7.15,"v":0.114},{"ie":7.05,"v":0.104},{"ie":6.98,"v":0.108},{"ie":6.9,"v":0.116},{"ie":6.85,"v":0.112},{"ie":6.75,"v":0.1},{"ie":6.7,"v":0.1},{"ie":6.6,"v":0.094},{"ie":6.5,"v":0.09},{"ie":6.45,"v":0.088},{"ie":6.35,"v":0.086}
  ],
  "etoh_model": [
    {"ie":25.0,"v":0.045},{"ie":24.0,"v":0.043},{"ie":23.2,"v":0.044},{"ie":22.8,"v":0.05},{"ie":22.5,"v":0.065},{"ie":22.3,"v":0.085},{"ie":22.1,"v":0.115},{"ie":21.9,"v":0.142},{"ie":21.7,"v":0.157},{"ie":21.55,"v":0.158},{"ie":21.4,"v":0.14},{"ie":21.2,"v":0.11},{"ie":21.0,"v":0.08},{"ie":20.8,"v":0.062},{"ie":20.5,"v":0.05},{"ie":20.2,"v":0.045},{"ie":20.0,"v":0.045},{"ie":19.8,"v":0.048},{"ie":19.6,"v":0.058},{"ie":19.4,"v":0.08},{"ie":19.2,"v":0.115},{"ie":19.0,"v":0.17},{"ie":18.8,"v":0.24},{"ie":18.6,"v":0.285},{"ie":18.4,"v":0.305},{"ie":18.25,"v":0.3},{"ie":18.1,"v":0.265},{"ie":17.95,"v":0.215},{"ie":17.8,"v":0.16},{"ie":17.6,"v":0.11},{"ie":17.4,"v":0.085},{"ie":17.22,"v":0.08},{"ie":17.05,"v":0.095},{"ie":16.9,"v":0.13},{"ie":16.75,"v":0.19},{"ie":16.6,"v":0.27},{"ie":16.45,"v":0.33},{"ie":16.3,"v":0.4},{"ie":16.1,"v":0.46},{"ie":15.95,"v":0.505},{"ie":15.75,"v":0.528},{"ie":15.6,"v":0.515},{"ie":15.42,"v":0.47},{"ie":15.25,"v":0.43},{"ie":15.1,"v":0.405},{"ie":14.95,"v":0.39},{"ie":14.85,"v":0.387},{"ie":14.7,"v":0.395},{"ie":14.55,"v":0.418},{"ie":14.4,"v":0.445},{"ie":14.25,"v":0.465},{"ie":14.05,"v":0.478},{"ie":13.9,"v":0.487},{"ie":13.75,"v":0.5},{"ie":13.6,"v":0.53},{"ie":13.45,"v":0.585},{"ie":13.3,"v":0.64},{"ie":13.12,"v":0.699},{"ie":12.95,"v":0.75},{"ie":12.78,"v":0.795},{"ie":12.6,"v":0.825},{"ie":12.43,"v":0.845},{"ie":12.3,"v":0.856},{"ie":12.15,"v":0.848},{"ie":12.01,"v":0.832},{"ie":11.88,"v":0.8},{"ie":11.74,"v":0.768},{"ie":11.6,"v":0.735},{"ie":11.46,"v":0.715},{"ie":11.3,"v":0.708},{"ie":11.18,"v":0.705},{"ie":11.05,"v":0.692},{"ie":10.95,"v":0.675},{"ie":10.8,"v":0.63},{"ie":10.69,"v":0.583},{"ie":10.55,"v":0.535},{"ie":10.42,"v":0.495},{"ie":10.3,"v":0.465},{"ie":10.21,"v":0.456},{"ie":10.1,"v":0.48},{"ie":10.0,"v":0.53},{"ie":9.9,"v":0.6},{"ie":9.79,"v":0.689},{"ie":9.68,"v":0.77},{"ie":9.58,"v":0.848},{"ie":9.47,"v":0.885},{"ie":9.37,"v":0.893},{"ie":9.27,"v":0.86},{"ie":9.16,"v":0.795},{"ie":9.06,"v":0.68},{"ie":8.96,"v":0.56},{"ie":8.85,"v":0.44},{"ie":8.75,"v":0.32},{"ie":8.65,"v":0.22},{"ie":8.54,"v":0.14},{"ie":8.43,"v":0.095},{"ie":8.33,"v":0.075},{"ie":8.15,"v":0.055},{"ie":7.99,"v":0.048},{"ie":7.7,"v":0.044},{"ie":7.36,"v":0.043},{"ie":6.35,"v":0.043}
  ],
  "etoh_labels": [
    {"ie":22.78,"v":0.356,"t":"5a'"},{"ie":19.93,"v":0.514,"t":"6a'"},{"ie":17.08,"v":0.52,"t":"7a'"},{"ie":8.7,"v":0.895,"t":"3a\""}
  ],
  "etoh_notes": [
    {"ie":22.47,"v":0.772,"t":"broadended by 0.4 eV"},{"ie":22.47,"v":0.722,"t":"and shifted by -0.6 eV"}
  ]
},
"hconcat": [
  {
    "width": 456.4,
    "height": 346.6,
    "layer": [
      {
        "layer": [
          {
            "data": {"name": "meoh_pes"},
            "mark": {"type": "line", "strokeWidth": 3.5, "clip": true},
            "encoding": {
              "x": {"field": "ie", "type": "quantitative", "scale": {"domain": [25, 7], "nice": false, "zero": false},
                    "axis": {"orient": "bottom", "values": [25, 20, 15, 10], "tickSize": 13, "labelPadding": 7, "title": "Ionization Energy [eV]", "titlePadding": 6}},
              "y": {"field": "v", "type": "quantitative", "scale": {"domain": [0, 1.1], "nice": false, "zero": false},
                    "axis": {"orient": "left", "values": [0, 0.2, 0.4, 0.6, 0.8, 1.0], "tickSize": 13, "labelPadding": 5, "labelExpr": "datum.value == 0 ? '0' : format(datum.value, '.1f')", "title": "Intensity [arb.u.]", "titlePadding": 12}},
              "color": {"datum": "PES (background corr.)", "type": "nominal",
                        "scale": {"domain": ["PES (background corr.)", "XES non-resonant exp.", "XES dynamic-free model"], "range": ["#4b6cbd", "#ec1c24", "#2b8a7e"]},
                        "legend": {"orient": "none", "legendX": 13, "legendY": 14, "title": "A) MeOH", "padding": 0, "titlePadding": 3, "rowPadding": 4, "symbolType": "M-1,0H5.6", "symbolSize": 100, "symbolStrokeWidth": 4, "labelOffset": 24}}
            }
          },
          {
            "data": {"name": "meoh_model"},
            "mark": {"type": "line", "strokeWidth": 3, "clip": true},
            "encoding": {
              "x": {"field": "ie", "type": "quantitative", "scale": {"domain": [25, 7], "nice": false, "zero": false}},
              "y": {"field": "v", "type": "quantitative", "scale": {"domain": [0, 1.1], "nice": false, "zero": false}},
              "color": {"datum": "XES dynamic-free model", "type": "nominal"}
            }
          },
          {
            "data": {"name": "meoh_xes"},
            "mark": {"type": "line", "strokeWidth": 3, "clip": true},
            "encoding": {
              "x": {"field": "ie", "type": "quantitative", "scale": {"domain": [25, 7], "nice": false, "zero": false}},
              "y": {"field": "v", "type": "quantitative", "scale": {"domain": [0, 1.1], "nice": false, "zero": false}},
              "color": {"datum": "XES non-resonant exp.", "type": "nominal"}
            }
          },
          {
            "data": {"name": "meoh_labels"},
            "mark": {"type": "text", "fontSize": 17.5, "color": "#1a1a1a", "font": "Liberation Sans"},
            "encoding": {
              "x": {"field": "ie", "type": "quantitative", "scale": {"domain": [25, 7], "nice": false, "zero": false}},
              "y": {"field": "v", "type": "quantitative", "scale": {"domain": [0, 1.1], "nice": false, "zero": false}},
              "text": {"field": "t", "type": "nominal"}
            }
          }
        ]
      },
      {
        "data": {"values": [{"ie": 25, "v": 0}]},
        "mark": {"type": "point", "opacity": 0},
        "encoding": {
          "x": {"field": "ie", "type": "quantitative", "scale": {"domain": [25, 7], "nice": false, "zero": false},
                "axis": {"orient": "bottom", "values": [24, 23, 22, 21, 19, 18, 17, 16, 14, 13, 12, 11, 9, 8], "tickSize": 6.5, "labels": false, "title": null, "domain": false}},
          "y": {"field": "v", "type": "quantitative", "scale": {"domain": [0, 1.1], "nice": false, "zero": false},
                "axis": {"orient": "left", "values": [0.05, 0.1, 0.15, 0.25, 0.3, 0.35, 0.45, 0.5, 0.55, 0.65, 0.7, 0.75, 0.85, 0.9, 0.95, 1.05], "tickSize": 6.5, "labels": false, "title": null, "domain": false}}
        }
      },
      {
        "data": {"values": [{"em": 515}]},
        "mark": {"type": "point", "opacity": 0},
        "encoding": {
          "x": {"field": "em", "type": "quantitative", "scale": {"domain": [512.17, 530.17], "nice": false, "zero": false},
                "axis": {"orient": "top", "values": [515, 520, 525, 530], "tickSize": 13, "labelPadding": 5, "title": "Emission Energy [eV]", "titlePadding": 11}}
        }
      },
      {
        "data": {"values": [{"em": 515}]},
        "mark": {"type": "point", "opacity": 0},
        "encoding": {
          "x": {"field": "em", "type": "quantitative", "scale": {"domain": [512.17, 530.17], "nice": false, "zero": false},
                "axis": {"orient": "top", "values": [513, 514, 516, 517, 518, 519, 521, 522, 523, 524, 526, 527, 528, 529], "tickSize": 6.5, "labels": false, "title": null}}
        }
      }
    ],
    "resolve": {"scale": {"x": "independent"}, "axis": {"x": "independent", "y": "independent"}}
  },
  {
    "width": 447.6,
    "height": 346.6,
    "view": {"stroke": null},
    "layer": [
      {
        "layer": [
          {
            "data": {"name": "etoh_pes"},
            "mark": {"type": "line", "strokeWidth": 3.5, "clip": true},
            "encoding": {
              "x": {"field": "ie", "type": "quantitative", "scale": {"domain": [25, 6.35], "nice": false, "zero": false},
                    "axis": {"orient": "bottom", "values": [25, 20, 15, 10], "tickSize": 13, "labelPadding": 7, "title": "Ionization Energy [eV]", "titlePadding": 6, "domain": true}},
              "y": {"field": "v", "type": "quantitative", "scale": {"domain": [0, 1.1], "nice": false, "zero": false},
                    "axis": {"orient": "left", "values": [0, 0.2, 0.4, 0.6, 0.8, 1.0], "tickSize": 13, "labelPadding": 5, "format": ".1f", "title": "Intensity [arb.u.]", "titlePadding": 12, "domain": true}},
              "color": {"datum": "PES (background corr.)", "type": "nominal",
                        "scale": {"domain": ["PES (background corr.)", "XES non-resonant exp.", "Theo. XES (no dynamics)"], "range": ["#4b6cbd", "#ec1c24", "#2b8a7e"]},
                        "legend": {"orient": "none", "legendX": 13, "legendY": 14, "title": "B) EtOH", "padding": 0, "titlePadding": 3, "rowPadding": 4, "symbolType": "M-1,0H5.6", "symbolSize": 100, "symbolStrokeWidth": 4, "labelOffset": 28}}
            }
          },
          {
            "data": {"name": "etoh_xes"},
            "mark": {"type": "line", "strokeWidth": 3, "clip": true},
            "encoding": {
              "x": {"field": "ie", "type": "quantitative", "scale": {"domain": [25, 6.35], "nice": false, "zero": false}},
              "y": {"field": "v", "type": "quantitative", "scale": {"domain": [0, 1.1], "nice": false, "zero": false}},
              "color": {"datum": "XES non-resonant exp.", "type": "nominal"}
            }
          },
          {
            "data": {"name": "etoh_model"},
            "mark": {"type": "line", "strokeWidth": 3, "clip": true},
            "encoding": {
              "x": {"field": "ie", "type": "quantitative", "scale": {"domain": [25, 6.35], "nice": false, "zero": false}},
              "y": {"field": "v", "type": "quantitative", "scale": {"domain": [0, 1.1], "nice": false, "zero": false}},
              "color": {"datum": "Theo. XES (no dynamics)", "type": "nominal"}
            }
          },
          {
            "data": {"name": "etoh_labels"},
            "mark": {"type": "text", "fontSize": 17.5, "color": "#1a1a1a", "font": "Liberation Sans"},
            "encoding": {
              "x": {"field": "ie", "type": "quantitative", "scale": {"domain": [25, 6.35], "nice": false, "zero": false}},
              "y": {"field": "v", "type": "quantitative", "scale": {"domain": [0, 1.1], "nice": false, "zero": false}},
              "text": {"field": "t", "type": "nominal"}
            }
          },
          {
            "data": {"name": "etoh_notes"},
            "mark": {"type": "text", "fontSize": 13, "color": "#1a1a1a", "font": "Liberation Sans", "align": "left"},
            "encoding": {
              "x": {"field": "ie", "type": "quantitative", "scale": {"domain": [25, 6.35], "nice": false, "zero": false}},
              "y": {"field": "v", "type": "quantitative", "scale": {"domain": [0, 1.1], "nice": false, "zero": false}},
              "text": {"field": "t", "type": "nominal"}
            }
          }
        ]
      },
      {
        "data": {"values": [{"ie": 25, "v": 0}]},
        "mark": {"type": "point", "opacity": 0},
        "encoding": {
          "x": {"field": "ie", "type": "quantitative", "scale": {"domain": [25, 6.35], "nice": false, "zero": false},
                "axis": {"orient": "bottom", "values": [24, 23, 22, 21, 19, 18, 17, 16, 14, 13, 12, 11, 9, 8, 7], "tickSize": 6.5, "labels": false, "title": null, "domain": false}},
          "y": {"field": "v", "type": "quantitative", "scale": {"domain": [0, 1.1], "nice": false, "zero": false},
                "axis": {"orient": "left", "values": [0.05, 0.1, 0.15, 0.25, 0.3, 0.35, 0.45, 0.5, 0.55, 0.65, 0.7, 0.75, 0.85, 0.9, 0.95, 1.05], "tickSize": 6.5, "labels": false, "title": null, "domain": false}}
        }
      },
      {
        "data": {"values": [{"em": 515}]},
        "mark": {"type": "point", "opacity": 0},
        "encoding": {
          "x": {"field": "em", "type": "quantitative", "scale": {"domain": [512, 530.65], "nice": false, "zero": false},
                "axis": {"orient": "top", "values": [515, 520, 525, 530], "tickSize": 13, "labelPadding": 5, "title": "Emission Energy [eV]", "titlePadding": 11, "domain": true}}
        }
      },
      {
        "data": {"values": [{"em": 515}]},
        "mark": {"type": "point", "opacity": 0},
        "encoding": {
          "x": {"field": "em", "type": "quantitative", "scale": {"domain": [512, 530.65], "nice": false, "zero": false},
                "axis": {"orient": "top", "values": [512, 513, 514, 516, 517, 518, 519, 521, 522, 523, 524, 526, 527, 528, 529], "tickSize": 6.5, "labels": false, "title": null}}
        }
      }
    ],
    "resolve": {"scale": {"x": "independent"}, "axis": {"x": "independent", "y": "independent"}}
  }
],
"resolve": {"scale": {"color": "independent"}, "legend": {"color": "independent"}}
}
